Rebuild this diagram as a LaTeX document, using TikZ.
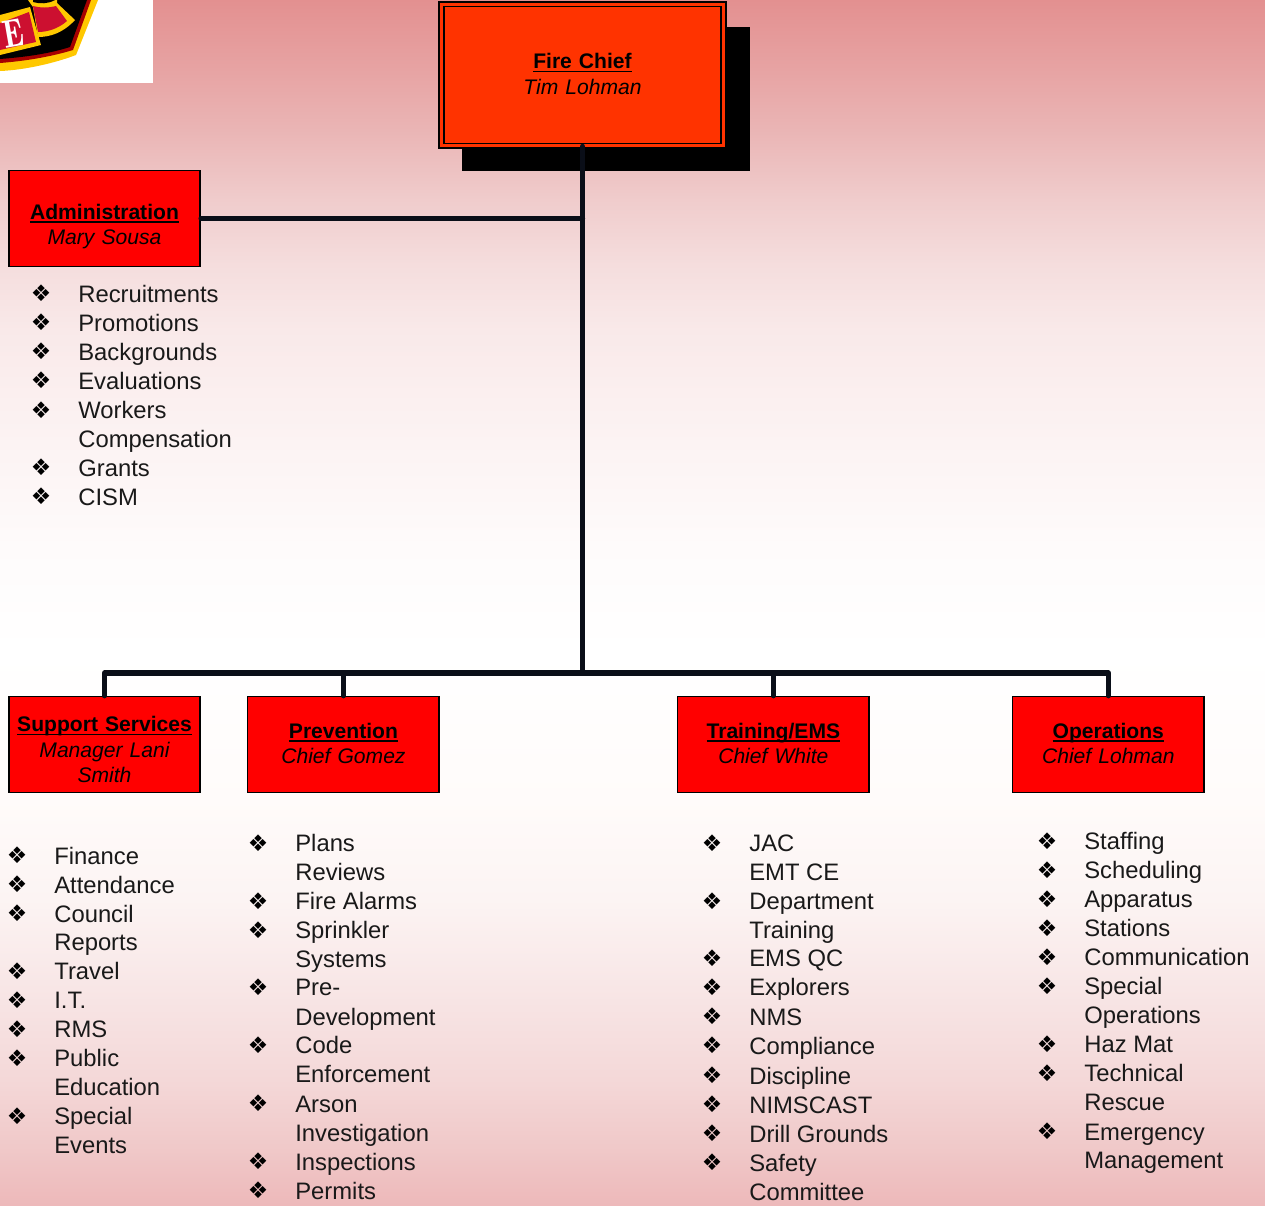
\documentclass[tikz,border=0pt]{standalone}
\usepackage{fontspec}
\setmainfont{Liberation Sans}
\newfontfamily\symfont{DejaVu Sans}
\usetikzlibrary{positioning,calc}
\definecolor{firered}{HTML}{FF3300}
\definecolor{linecol}{HTML}{0A0E18}
\definecolor{logoyellow}{HTML}{FFC800}
\definecolor{logored}{HTML}{CC1030}
\pgfdeclareverticalshading{pagebg}{100bp}{
  rgb(0bp)=(0.93,0.725,0.73); rgb(25bp)=(0.93,0.725,0.73); rgb(27.3bp)=(0.94,0.785,0.785);
  rgb(30.2bp)=(0.957,0.847,0.847); rgb(33.5bp)=(0.97,0.895,0.895); rgb(37.7bp)=(0.988,0.957,0.953);
  rgb(41.8bp)=(1,0.985,0.98); rgb(48bp)=(1,1,1); rgb(52.2bp)=(0.996,0.985,0.985);
  rgb(58.4bp)=(0.984,0.94,0.94); rgb(61.3bp)=(0.976,0.914,0.914); rgb(64bp)=(0.96,0.867,0.867);
  rgb(66.7bp)=(0.94,0.8,0.8); rgb(69.6bp)=(0.918,0.71,0.71); rgb(72.1bp)=(0.906,0.64,0.64);
  rgb(75bp)=(0.89,0.565,0.565); rgb(100bp)=(0.89,0.565,0.565)}
\tikzset{
unitbox/.style = {draw=black, line width=0.9pt, fill=red, minimum width=109pt, minimum height=54.6pt, align=center, font=\fontsize{12}{14.5}\selectfont, inner sep=0pt, text width=107pt},
chiefbox/.style = {unitbox, fill=firered, draw=black, double=firered, double distance=2pt, line width=0.8pt, minimum width=160.5pt, minimum height=80.5pt},
shadowbox/.style = {fill=black, minimum width=164pt, minimum height=82pt, inner sep=0pt},
conn/.style = {draw=linecol, line width=3pt, line cap=round, line join=round},
itemtext/.style = {anchor=base west, inner sep=0pt, font=\fontsize{13.55}{16}\selectfont, text=black!90},
itemmark/.style = {inner sep=0pt, font=\symfont\fontsize{13}{13}\selectfont}
}
% title with a heavy rule close under it, then the name
\newcommand{\unithead}[1]{\setbox0\hbox{\textbf{#1}}\copy0\kern-\wd0\vrule width\wd0 height-1.1pt depth 2pt\relax}
\newcommand{\unitlabel}[3][0pt]{\rule{0pt}{#1}\unithead{#2}\\\textit{#3}\vspace*{1pt}}

\begin{document}
\begin{tikzpicture}[x=0.02cm,y=-0.02cm]
  \useasboundingbox (0,0) rectangle (1265,1205);
  \shade [shading=pagebg] (0,0) rectangle (1265,1205);

  % logo corner
  \fill [white] (0,0) rectangle (153,83);
  \begin{scope}
    \clip (0,0) rectangle (153,83);
    \fill [logoyellow] (98,0) -- (76,55) .. controls (55,63) and (25,70) .. (0,71) -- (0,0) -- cycle;
    \fill [red!65!black] (91,0) -- (73,50) .. controls (50,57) and (25,61) .. (0,63) -- (0,0) -- cycle;
    \fill [black] (87,0) -- (70,47) .. controls (48,54) and (25,57) .. (0,59) -- (0,0) -- cycle;
    \fill [logoyellow] (28,0) -- (57,0) -- (57,3) -- (75,20) .. controls (63,33) and (50,37) .. (38,37) -- (33,7) -- cycle;
    \fill [black] (33,0) -- (55,0) .. controls (48,4) and (40,4) .. (33,2) -- cycle;
    \fill [logored] (33,6) .. controls (40,8) and (48,8) .. (56,6) -- (67,21) .. controls (58,29) and (47,32) .. (38,32) -- cycle;
    \fill [logoyellow] (0,15) -- (30,7) -- (41,45) -- (0,55) -- cycle;
    \fill [logored] (0,23) -- (29,12) -- (36,42) -- (0,50) -- cycle;
    \node [rotate=10, yscale=1.25, text=white, font=\bfseries\fontfamily{lmr}\selectfont\fontsize{18}{18}\selectfont, inner sep=0pt] (logoletter) at (13.5,33) {E};
  \end{scope}

  % boxes
  \node [shadowbox]                             (chiefshadow) at (606,99)   {};
  \node [chiefbox]                              (chief)       at (582.5,75) {\unitlabel{Fire Chief}{Tim Lohman}};
  \node [unitbox]                               (admin)       at (104.5,218.5) {\unitlabel[18.6pt]{Administration}{Mary Sousa}};
  \node [unitbox]                               (support)     at (104.5,744.5) {\unitlabel[15.4pt]{Support Services}{Manager Lani\\Smith}};
  \node [unitbox, right of=support, node distance=4.78cm] (prevent) {\unitlabel{Prevention}{Chief Gomez}};
  \node [unitbox, right of=prevent, node distance=8.6cm]  (training) {\unitlabel{Training/EMS}{Chief White}};
  \node [unitbox, right of=training, node distance=6.7cm] (ops) {\unitlabel{Operations}{Chief Lohman}};
  \coordinate (trunk) at (chief.south |- 0,673);

  \draw [conn] (chief.south) -- (trunk);
  \draw [conn] (admin.east) -- (admin.east -| chief.south);
  \draw [conn] (trunk) -| (support.north);
  \draw [conn] (trunk) -| (prevent.north);
  \draw [conn] (trunk) -| (training.north);
  \draw [conn] (trunk) -| (ops.north);

  % lists
  \foreach \ypos/\txt [count=\i] in {302/Recruitments,331/Promotions,360/Backgrounds,389/Evaluations,418/Workers,447/Compensation,476/Grants,505/CISM}
    \node [itemtext] (admintxt\i) at (78,\ypos) {\txt};
  \foreach \ypos [count=\i] in {293,322,351,380,410,467,496}
    \node [itemmark] (adminmark\i) at (41,\ypos) {❖};

  \foreach \ypos/\txt [count=\i] in {864/Finance,893/Attendance,922/Council,950/Reports,979/Travel,1008/I.T.,1037/RMS,1066/Public,1095/Education,1124/Special,1153/Events}
    \node [itemtext] (supporttxt\i) at (54,\ypos) {\txt};
  \foreach \ypos [count=\i] in {855,884,913,971,1000,1029,1058,1116}
    \node [itemmark] (supportmark\i) at (17,\ypos) {❖};

  \foreach \ypos/\txt [count=\i] in {851/Plans,880/Reviews,909/Fire Alarms,938/Sprinkler,967/Systems,995/Pre-,1025/Development,1053/Code,1082/Enforcement,1112/Arson,1141/Investigation,1170/Inspections,1199/Permits}
    \node [itemtext] (preventtxt\i) at (295,\ypos) {\txt};
  \foreach \ypos [count=\i] in {843,901,930,987,1045,1103,1161,1190}
    \node [itemmark] (preventmark\i) at (258,\ypos) {❖};

  \foreach \ypos/\txt [count=\i] in {851/JAC,880/EMT CE,909/Department,938/Training,966/EMS QC,995/Explorers,1025/NMS,1054/Compliance,1084/Discipline,1113/NIMSCAST,1142/Drill Grounds,1171/Safety,1200/Committee}
    \node [itemtext] (trainingtxt\i) at (749,\ypos) {\txt};
  \foreach \ypos [count=\i] in {843,901,958,987,1016,1045,1075,1104,1133,1162}
    \node [itemmark] (trainingmark\i) at (712,\ypos) {❖};

  \foreach \ypos/\txt [count=\i] in {849/Staffing,878/Scheduling,907/Apparatus,936/Stations,965/Communication,994/Special,1023/Operations,1052/Haz Mat,1081/Technical,1110/Rescue,1140/Emergency,1168/Management}
    \node [itemtext] (opstxt\i) at (1084,\ypos) {\txt};
  \foreach \ypos [count=\i] in {841,870,899,928,957,986,1044,1073,1131}
    \node [itemmark] (opsmark\i) at (1047,\ypos) {❖};
\end{tikzpicture}
\end{document}
